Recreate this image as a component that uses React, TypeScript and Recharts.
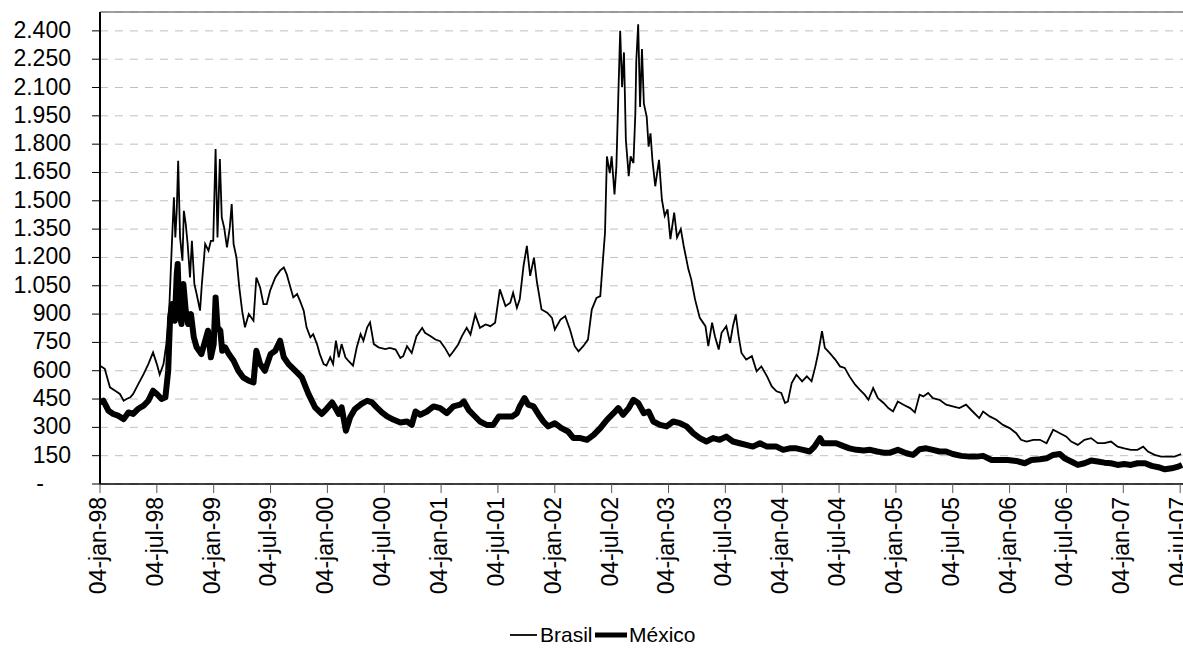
import { LineChart, Line, XAxis, YAxis, CartesianGrid, ReferenceLine } from "recharts"

// x = months since 04-jan-98, y = spread in basis points
const tickLabels = [
  "04-jan-98", "04-jul-98", "04-jan-99", "04-jul-99", "04-jan-00", "04-jul-00",
  "04-jan-01", "04-jul-01", "04-jan-02", "04-jul-02", "04-jan-03", "04-jul-03",
  "04-jan-04", "04-jul-04", "04-jan-05", "04-jul-05", "04-jan-06", "04-jul-06",
  "04-jan-07", "04-jul-07"
]
const xTicks = tickLabels.map((_, i) => i * 6)
const yTicks = [0, 150, 300, 450, 600, 750, 900, 1050, 1200, 1350, 1500, 1650, 1800, 1950, 2100, 2250, 2400]

const brasil: [number, number][] = [
  [0, 627], [0.5, 610], [1.05, 512], [1.6, 494], [2.1, 477], [2.5, 441], [2.8, 450], [3.2, 459],
  [3.5, 477], [4.05, 530], [4.6, 582], [5.1, 635], [5.6, 697], [6.0, 635], [6.3, 580], [6.7, 635],
  [7.0, 741], [7.3, 918], [7.6, 1288], [7.8, 1518], [7.95, 1306], [8.1, 1447], [8.25, 1712], [8.45, 1306],
  [8.7, 1183], [8.85, 1447], [9.05, 1377], [9.25, 1271], [9.5, 1094], [9.7, 1288], [9.96, 1059], [10.2, 1006],
  [10.56, 918], [10.75, 1059], [11.1, 1271], [11.45, 1236], [11.7, 1288], [11.95, 1288], [12.2, 1774], [12.4, 1306],
  [12.65, 1721], [12.85, 1412], [13.1, 1359], [13.4, 1253], [13.7, 1359], [13.9, 1483], [14.1, 1271], [14.4, 1200],
  [14.7, 1041], [15.0, 918], [15.3, 830], [15.7, 900], [16.2, 865], [16.5, 1094], [16.9, 1041], [17.25, 953],
  [17.6, 953], [17.95, 1024], [18.5, 1094], [19.0, 1130], [19.4, 1147], [19.7, 1112], [20.1, 1041], [20.4, 988],
  [20.8, 1006], [21.1, 971], [21.5, 918], [21.8, 830], [22.2, 777], [22.5, 794], [22.9, 741], [23.2, 688],
  [23.6, 635], [23.9, 627], [24.3, 671], [24.6, 635], [24.9, 759], [25.2, 671], [25.5, 741], [25.9, 671],
  [26.2, 653], [26.7, 627], [27.1, 724], [27.5, 794], [27.8, 759], [28.2, 830], [28.5, 856], [28.9, 741],
  [29.4, 724], [30.1, 715], [30.6, 721], [31.2, 712], [31.7, 668], [32.0, 677], [32.4, 730], [32.9, 694],
  [33.4, 783], [34.0, 827], [34.3, 801], [34.9, 783], [35.4, 765], [35.9, 756], [36.4, 721], [36.9, 677],
  [37.3, 703], [37.8, 739], [38.2, 783], [38.7, 827], [39.1, 792], [39.6, 898], [40.1, 827], [40.7, 845],
  [41.2, 836], [41.7, 854], [42.2, 1031], [42.8, 942], [43.3, 960], [43.6, 1013], [44.0, 933], [44.3, 978],
  [44.7, 1155], [45.05, 1261], [45.4, 1102], [45.8, 1199], [46.1, 1075], [46.6, 924], [47.2, 907], [47.7, 880],
  [48.0, 818], [48.6, 871], [49.1, 889], [49.6, 818], [50.1, 730], [50.5, 703], [51.0, 730], [51.5, 765],
  [51.9, 924], [52.4, 986], [52.8, 995], [53.1, 1200], [53.3, 1332], [53.5, 1735], [53.8, 1647], [54.0, 1735],
  [54.3, 1534], [54.5, 1682], [54.7, 2050], [54.9, 2400], [55.1, 2102], [55.3, 2286], [55.5, 1822], [55.8, 1630],
  [56.0, 1735], [56.3, 1700], [56.5, 1962], [56.6, 2242], [56.8, 2435], [57.0, 1997], [57.2, 2304], [57.4, 2015],
  [57.7, 1945], [57.9, 1787], [58.1, 1857], [58.3, 1717], [58.6, 1577], [59.0, 1717], [59.3, 1507], [59.6, 1420],
  [59.9, 1455], [60.2, 1297], [60.6, 1437], [60.9, 1306], [61.3, 1350], [61.6, 1262], [62.1, 1137], [62.4, 1084],
  [62.8, 978], [63.3, 880], [63.9, 836], [64.2, 730], [64.6, 854], [64.9, 783], [65.3, 712], [65.6, 801],
  [66.1, 836], [66.5, 747], [66.8, 836], [67.1, 898], [67.4, 783], [67.7, 694], [68.2, 659], [68.8, 677],
  [69.3, 597], [69.8, 623], [70.4, 570], [70.9, 517], [71.4, 491], [71.9, 482], [72.3, 429], [72.6, 437],
  [73.0, 535], [73.5, 579], [74.1, 544], [74.6, 570], [75.1, 544], [75.5, 623], [75.8, 694], [76.2, 809],
  [76.5, 721], [77.0, 694], [77.6, 659], [78.1, 623], [78.6, 615], [79.1, 570], [79.7, 526], [80.2, 499],
  [80.7, 473], [81.1, 446], [81.6, 508], [82.1, 455], [82.7, 429], [83.2, 402], [83.7, 384], [84.2, 437],
  [84.8, 420], [85.5, 402], [86.0, 379], [86.5, 473], [86.9, 464], [87.4, 482], [87.9, 455], [88.6, 446],
  [89.3, 420], [90.0, 411], [90.7, 402], [91.4, 420], [92.1, 384], [92.8, 349], [93.2, 384], [93.9, 358],
  [94.6, 340], [95.3, 313], [96.0, 296], [96.7, 269], [97.2, 234], [97.8, 225], [98.5, 234], [99.2, 234],
  [99.9, 216], [100.6, 287], [101.3, 269], [102.0, 251], [102.5, 225], [103.2, 207], [103.9, 234], [104.6, 243],
  [105.3, 216], [106.0, 216], [106.7, 225], [107.4, 198], [108.1, 189], [108.8, 181], [109.5, 181], [110.1, 198],
  [110.6, 172], [111.3, 154], [112.0, 145], [112.7, 145], [113.4, 145], [114.1, 158]
]

const mexico: [number, number][] = [
  [0, 432], [0.35, 441], [0.9, 388], [1.4, 371], [1.9, 362], [2.5, 344], [3.0, 379], [3.5, 371],
  [4.0, 397], [4.6, 415], [5.1, 441], [5.6, 494], [6.0, 477], [6.5, 450], [6.9, 459], [7.2, 600],
  [7.4, 883], [7.6, 953], [7.9, 865], [8.1, 1112], [8.2, 1165], [8.35, 918], [8.6, 847], [8.8, 1059],
  [9.05, 918], [9.3, 847], [9.6, 900], [9.9, 777], [10.2, 724], [10.7, 688], [11.1, 759], [11.4, 812],
  [11.7, 671], [12.0, 741], [12.2, 988], [12.4, 830], [12.7, 812], [12.9, 706], [13.2, 724], [13.6, 688],
  [14.1, 653], [14.6, 600], [15.1, 565], [15.7, 547], [16.2, 538], [16.5, 706], [16.9, 635], [17.4, 600],
  [18.0, 688], [18.5, 706], [19.0, 759], [19.4, 671], [19.9, 635], [20.6, 600], [21.3, 565], [22.0, 477],
  [22.7, 406], [23.4, 371], [23.9, 397], [24.5, 432], [24.8, 406], [25.2, 371], [25.5, 406], [25.95, 282],
  [26.4, 353], [26.9, 397], [27.6, 424], [28.2, 441], [28.7, 432], [29.2, 406], [29.75, 379], [30.3, 358],
  [31.0, 340], [31.7, 326], [32.4, 331], [32.9, 313], [33.3, 384], [33.8, 367], [34.5, 384], [35.2, 411],
  [35.9, 402], [36.6, 375], [37.3, 411], [38.0, 420], [38.4, 437], [38.9, 393], [39.4, 367], [40.1, 331],
  [40.8, 313], [41.5, 313], [42.1, 358], [42.8, 358], [43.5, 358], [44.0, 375], [44.3, 411], [44.8, 455],
  [45.2, 420], [45.75, 411], [46.3, 367], [46.8, 331], [47.3, 305], [48.0, 322], [48.7, 296], [49.4, 278],
  [49.97, 243], [50.7, 243], [51.4, 234], [52.1, 260], [52.8, 296], [53.5, 340], [54.2, 375], [54.7, 402],
  [55.2, 367], [55.8, 402], [56.3, 446], [56.8, 429], [57.4, 375], [57.9, 384], [58.4, 331], [59.1, 313],
  [59.8, 305], [60.5, 331], [61.2, 322], [61.9, 305], [62.6, 269], [63.3, 243], [64.0, 225], [64.7, 243],
  [65.4, 234], [66.1, 251], [66.8, 225], [67.5, 216], [68.2, 207], [68.9, 198], [69.65, 216], [70.4, 198],
  [71.4, 198], [72.1, 181], [72.8, 189], [73.5, 189], [74.2, 181], [74.9, 172], [75.4, 198], [76.0, 243],
  [76.3, 216], [77.0, 216], [77.7, 216], [78.4, 202], [79.1, 189], [79.85, 181], [80.6, 177], [81.3, 181],
  [82.0, 172], [82.7, 166], [83.4, 166], [84.2, 181], [85.1, 163], [85.8, 154], [86.5, 184], [87.2, 189],
  [87.9, 181], [88.6, 172], [89.3, 172], [90.0, 159], [90.9, 149], [91.8, 145], [92.5, 145], [93.2, 149],
  [94.1, 127], [95.0, 127], [95.8, 127], [96.7, 122], [97.6, 110], [98.3, 127], [99.2, 131], [99.9, 136],
  [100.6, 154], [101.3, 159], [101.8, 136], [102.5, 119], [103.2, 101], [103.9, 110], [104.6, 124], [105.3, 119],
  [106.0, 113], [106.7, 110], [107.4, 101], [108.1, 106], [108.8, 101], [109.5, 110], [110.3, 110], [111.0, 96],
  [111.7, 89], [112.4, 78], [113.1, 83], [113.8, 92], [114.2, 101]
]

const FONT = "'Liberation Sans', Arial, sans-serif"

const toRows = (pts: [number, number][]) => pts.map(([m, v]) => ({ m, v }))

// 2400 -> "2.400", 0 -> "-"
const fmt = (v: number) => (v === 0 ? "-" : String(v).replace(/\B(?=(\d{3})+(?!\d))/g, "."))

function YTick({ y, payload }: any) {
  const v = payload.value
  return (
    <text x={v === 0 ? 44 : 71} y={y} dy={7} textAnchor="end" fontSize={23} fontFamily={FONT} fill="#000">
      {fmt(v)}
    </text>
  )
}

function XTick({ x, payload }: any) {
  const label = tickLabels[Math.round(payload.value / 6)]
  return (
    <text
      transform={`translate(${x - 1},497) rotate(-90)`}
      textAnchor="end"
      dy="0.3em"
      fontSize={23}
      fontFamily={FONT}
      fill="#000"
    >
      {label}
    </text>
  )
}

export default function App() {
  return (
    <div style={{ position: "absolute", left: 0, top: 0, width: 1183, height: 648, background: "#fff" }}>
      <LineChart width={1183} height={648} margin={{ top: 12, right: 0, bottom: 0, left: 0 }}>
        <CartesianGrid vertical={false} stroke="#c0c0c0" strokeDasharray="8 7" />
        <ReferenceLine y={2500} stroke="#808080" strokeWidth={1.5} />
        <XAxis
          type="number"
          dataKey="m"
          domain={[0, 114.3]}
          ticks={xTicks}
          interval={0}
          allowDataOverflow
          height={164}
          tickSize={9}
          tickLine={{ stroke: "#555" }}
          axisLine={{ stroke: "#000", strokeWidth: 1.5 }}
          tick={<XTick />}
        />
        <YAxis
          type="number"
          domain={[0, 2500]}
          ticks={yTicks}
          interval={0}
          width={100}
          tickSize={8}
          tickLine={{ stroke: "#000" }}
          axisLine={{ stroke: "#000", strokeWidth: 2 }}
          tick={<YTick />}
        />
        <Line
          data={toRows(brasil)}
          dataKey="v"
          name="Brasil"
          type="linear"
          stroke="#000"
          strokeWidth={1.8}
          dot={false}
          isAnimationActive={false}
        />
        <Line
          data={toRows(mexico)}
          dataKey="v"
          name="México"
          type="linear"
          stroke="#000"
          strokeWidth={6}
          strokeLinejoin="round"
          dot={false}
          isAnimationActive={false}
        />
      </LineChart>
      <svg width={1183} height={648} style={{ position: "absolute", left: 0, top: 0, pointerEvents: "none" }}>
        <line x1={510} y1={635} x2={537} y2={635} stroke="#000" strokeWidth={1.8} />
        <text x={540} y={642} fontSize={21} fontFamily={FONT} fill="#000">Brasil</text>
        <line x1={595} y1={635} x2={627} y2={635} stroke="#000" strokeWidth={5} />
        <text x={629} y={642} fontSize={21} fontFamily={FONT} fill="#000">México</text>
      </svg>
    </div>
  )
}
